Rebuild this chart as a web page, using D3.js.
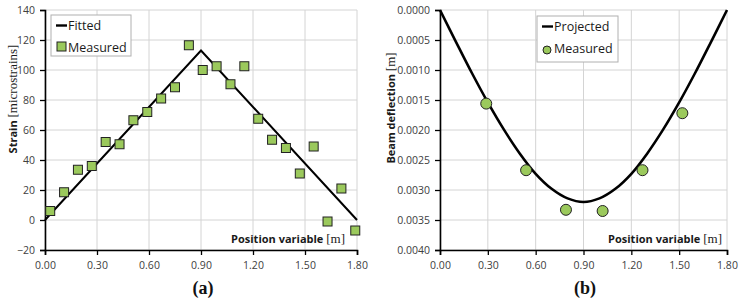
<!doctype html>
<html lang="en">
<head>
<meta charset="utf-8">
<title>Strain and deflection</title>
<script src="https://cdn.jsdelivr.net/npm/d3@7"></script>
<style>
  body { margin: 0; background: #fff; }
  svg { display: block; }
  .tick text { font-family: "Open Sans", sans-serif; font-size: 10.5px; fill: #404040; }
  .ttl { font-family: "Open Sans", sans-serif; font-size: 11px; font-weight: bold; fill: #1a1a1a; }
  .unit { font-family: "Liberation Serif", serif; font-size: 13px; font-weight: normal; }
  .leg { font-family: "Open Sans", sans-serif; font-size: 12.5px; fill: #1a1a1a; }
  .panel { font-family: "Liberation Serif", serif; font-size: 18px; font-weight: bold; fill: #111; }
</style>
</head>
<body>
<div id="viz"></div>
<script>
// ---- data ----
// (a) strain along the beam
var strainX = [0.03, 0.11, 0.19, 0.27, 0.35, 0.43, 0.51, 0.59, 0.67, 0.75, 0.83, 0.91,
               0.99, 1.07, 1.15, 1.23, 1.31, 1.39, 1.47, 1.55, 1.63, 1.71, 1.79];
var strainMeasured = [6, 18.5, 33.5, 36, 52, 50.5, 66.5, 72, 81, 88.5, 116.5, 100,
                      102.5, 90.5, 102.5, 67.5, 53.5, 48, 31, 49, -1, 21, -7];
var fittedX = [0, 0.9, 1.8];
var fittedY = [0, 113, 0];

// (b) beam deflection
var deflX = [0.29, 0.54, 0.79, 1.02, 1.27, 1.52];
var deflMeasured = [0.00156, 0.00267, 0.00333, 0.00335, 0.00267, 0.00172];
var projX = [0, 0.1, 0.2, 0.3, 0.4, 0.5, 0.6, 0.7, 0.8, 0.9,
             1.0, 1.1, 1.2, 1.3, 1.4, 1.5, 1.6, 1.7, 1.8];
var projY = [0, 0.00053, 0.00105, 0.00154, 0.00199, 0.00239, 0.00273, 0.00298, 0.00314, 0.0032,
             0.00314, 0.00298, 0.00273, 0.00239, 0.00199, 0.00154, 0.00105, 0.00053, 0];

var xTicks = [0, 0.3, 0.6, 0.9, 1.2, 1.5, 1.8];
var strainTicks = [-20, 0, 20, 40, 60, 80, 100, 120, 140];
var deflTicks = [0, 0.0005, 0.001, 0.0015, 0.002, 0.0025, 0.003, 0.0035, 0.004];
var legendA = ["Fitted", "Measured"];
var legendB = ["Projected", "Measured"];

var W = 741, H = 305;
var green = "#9bc95c";

var svg = d3.select("#viz").append("svg")
    .attr("width", W).attr("height", H)
    .attr("viewBox", "0 0 " + W + " " + H);

function panel(opt) {
  var x = d3.scaleLinear().domain([0, 1.8]).range(opt.xr);
  var y = d3.scaleLinear().domain(opt.yd).range([250, 10]);
  var g = svg.append("g");

  // gridlines
  g.append("g").selectAll("line").data(xTicks).enter().append("line")
      .attr("x1", d => x(d)).attr("x2", d => x(d))
      .attr("y1", 10).attr("y2", 250)
      .attr("stroke", "#d4d4d4").attr("stroke-width", 1);
  g.append("g").selectAll("line").data(opt.yt).enter().append("line")
      .attr("x1", opt.xr[0]).attr("x2", opt.xr[1])
      .attr("y1", d => y(d)).attr("y2", d => y(d))
      .attr("stroke", "#d4d4d4").attr("stroke-width", 1);

  // axes
  var ya = g.append("g").attr("transform", "translate(" + opt.xr[0] + ",0)")
      .call(d3.axisLeft(y).tickValues(opt.yt).tickFormat(opt.yf).tickSize(5).tickPadding(5));
  var xa = g.append("g").attr("transform", "translate(0," + y(opt.yd[0]) + ")")
      .call(d3.axisBottom(x).tickValues(xTicks).tickFormat(d3.format(".2f")).tickSize(5).tickPadding(7));
  [ya, xa].forEach(function (a) {
    a.select(".domain").attr("stroke", "#000").attr("stroke-width", 1.6);
    a.selectAll(".tick line").attr("stroke", "#000").attr("stroke-width", 1.3);
  });

  // line
  var line = d3.line().x(d => x(d[0])).y(d => y(d[1]));
  if (opt.smooth) line.curve(d3.curveCatmullRom);
  g.append("path").datum(d3.zip(opt.lx, opt.ly))
      .attr("d", line).attr("fill", "none")
      .attr("stroke", "#000").attr("stroke-width", opt.lw);

  // markers
  var pts = d3.zip(opt.px, opt.py);
  if (opt.circle) {
    g.append("g").selectAll("circle").data(pts).enter().append("circle")
        .attr("cx", d => x(d[0])).attr("cy", d => y(d[1])).attr("r", 5.5)
        .attr("fill", green).attr("stroke", "#222").attr("stroke-width", 1);
  } else {
    g.append("g").selectAll("rect").data(pts).enter().append("rect")
        .attr("x", d => x(d[0]) - 4.5).attr("y", d => y(d[1]) - 4.5)
        .attr("width", 9).attr("height", 9)
        .attr("fill", green).attr("stroke", "#222").attr("stroke-width", 1);
  }

  // axis titles
  var yt = g.append("text").attr("class", "ttl")
      .attr("transform", "translate(" + opt.yTitle[0] + "," + opt.yTitle[1] + ") rotate(-90)")
      .attr("text-anchor", "middle");
  yt.append("tspan").text(opt.ylab + " ");
  yt.append("tspan").attr("class", "unit").text(opt.yunit);

  var xt = g.append("text").attr("class", "ttl")
      .attr("x", opt.xTitleEnd).attr("y", 243).attr("text-anchor", "end");
  xt.append("tspan").text("Position variable ");
  xt.append("tspan").attr("class", "unit").text("[m]");

  // legend
  var lg = g.append("g").attr("transform", "translate(" + opt.leg[0] + "," + opt.leg[1] + ")");
  lg.append("rect").attr("width", opt.leg[2]).attr("height", opt.leg[3])
      .attr("fill", "#fff").attr("stroke", "#b0b0b0");
  lg.append("line").attr("x1", 5).attr("x2", 16).attr("y1", 10.5).attr("y2", 10.5)
      .attr("stroke", "#000").attr("stroke-width", 2.4);
  if (opt.circle) {
    lg.append("circle").attr("cx", 10).attr("cy", 34).attr("r", 4)
        .attr("fill", green).attr("stroke", "#222");
  } else {
    lg.append("rect").attr("x", 6).attr("y", 27).attr("width", 9).attr("height", 9)
        .attr("fill", green).attr("stroke", "#222");
  }
  lg.selectAll("text.leg").data(opt.legTxt).enter().append("text")
      .attr("class", "leg").attr("x", 17).attr("y", (d, i) => 15 + i * 22)
      .text(d => d);

  svg.append("text").attr("class", "panel")
      .attr("x", opt.lab[0]).attr("y", 294).attr("text-anchor", "middle").text(opt.lab[1]);
}

panel({
  xr: [45, 357], yd: [-20, 140], yt: strainTicks, yf: d3.format("d"),
  lx: fittedX, ly: fittedY, lw: 2, px: strainX, py: strainMeasured, circle: false,
  yTitle: [17, 99], ylab: "Strain", yunit: "[microstrains]", xTitleEnd: 345,
  leg: [51, 15, 80, 41], legTxt: legendA, lab: [203, "(a)"]
});

panel({
  xr: [440, 727], yd: [0.004, 0], yt: deflTicks, yf: d3.format(".4f"),
  lx: projX, ly: projY, lw: 2.6, px: deflX, py: deflMeasured, circle: true, smooth: true,
  yTitle: [395, 108], ylab: "Beam deflection", yunit: "[m]", xTitleEnd: 722,
  leg: [537, 16, 81, 46], legTxt: legendB, lab: [585, "(b)"]
});
</script>
</body>
</html>
